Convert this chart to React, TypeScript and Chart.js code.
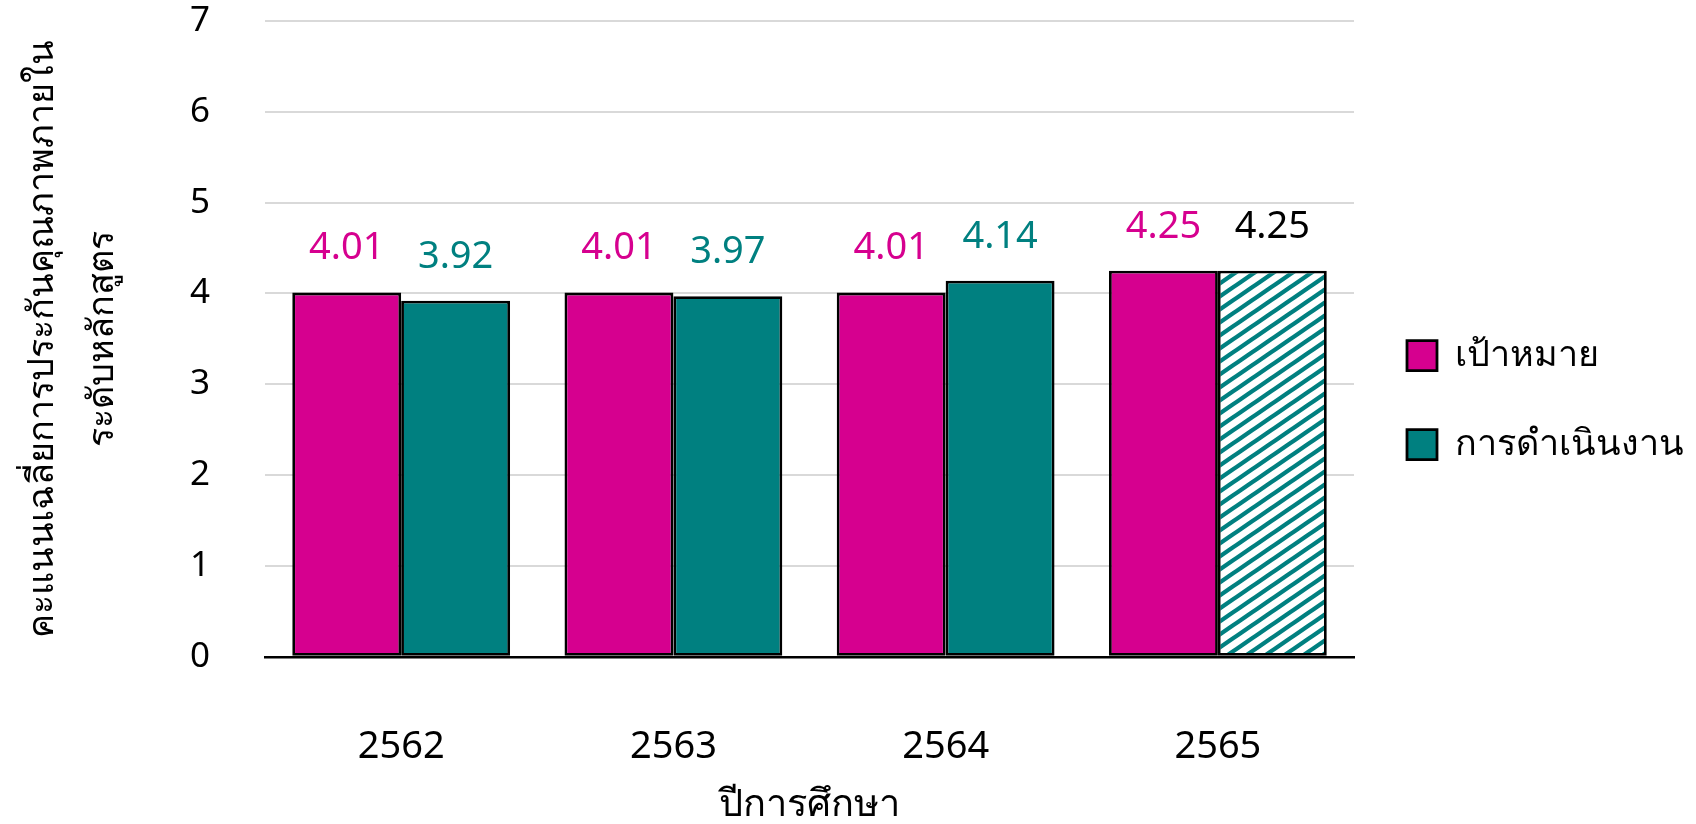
import React, { useEffect, useRef } from 'react';
import { Chart, registerables } from 'chart.js';

Chart.register(...registerables);

// ---- data ----
const years = ['2562', '2563', '2564', '2565'];
const targetValues = [4.01, 4.01, 4.01, 4.25];
const actualValues = [3.92, 3.97, 4.14, 4.25];
const seriesNames = ['เป้าหมาย', 'การดำเนินงาน'];
const yTitleLines = ['คะแนนเฉลี่ยการประกันคุณภาพภายใน', 'ระดับหลักสูตร'];
const xTitle = 'ปีการศึกษา';
const yMin = 0;
const yMax = 7;
const yStep = 1;

// ---- styles ----
const MAGENTA = '#D6008F';
const TEAL = '#008080';
const FONT = "'Noto Sans', 'Open Sans', sans-serif";
const HATCH_INDEX = 3;

function makeHatch(ctx: CanvasRenderingContext2D) {
  const w = 19;
  const h = 13;
  const c = document.createElement('canvas');
  c.width = w;
  c.height = h;
  const g = c.getContext('2d')!;
  g.fillStyle = '#ffffff';
  g.fillRect(0, 0, w, h);
  g.strokeStyle = TEAL;
  g.lineWidth = 4.3;
  g.beginPath();
  for (const dx of [-w, 0, w]) {
    g.moveTo(dx - w, 2 * h);
    g.lineTo(dx + 2 * w, -h);
  }
  g.stroke();
  return ctx.createPattern(c, 'repeat');
}

const valueLabels = {
  id: 'valueLabels',
  afterDatasetsDraw(chart: any) {
    const ctx = chart.ctx as CanvasRenderingContext2D;
    ctx.save();
    ctx.font = `38px ${FONT}`;
    ctx.textAlign = 'center';
    ctx.textBaseline = 'middle';
    chart.data.datasets.forEach((ds: any, di: number) => {
      const meta = chart.getDatasetMeta(di);
      meta.data.forEach((el: any, i: number) => {
        const v = ds.data[i] as number;
        let color = di === 0 ? MAGENTA : TEAL;
        if (di === 1 && i === HATCH_INDEX) color = '#000000';
        ctx.fillStyle = color;
        ctx.fillText(v.toFixed(2), el.x, el.y - 44);
      });
    });
    ctx.restore();
  },
};

export default function App() {
  const ref = useRef<HTMLCanvasElement | null>(null);

  useEffect(() => {
    document.body.style.margin = '0';
    const canvas = ref.current!;
    const ctx = canvas.getContext('2d')!;
    const hatch = makeHatch(ctx);

    const chart = new Chart(ctx, {
      type: 'bar',
      data: {
        labels: years,
        datasets: [
          {
            label: seriesNames[0],
            data: targetValues,
            backgroundColor: MAGENTA,
            borderColor: '#000000',
            borderWidth: 2.8,
            borderSkipped: false,
          },
          {
            label: seriesNames[1],
            data: actualValues,
            backgroundColor: (c: any) =>
              c.dataIndex === HATCH_INDEX ? hatch : TEAL,
            borderColor: '#000000',
            borderWidth: 2.8,
            borderSkipped: false,
          },
        ],
      },
      options: {
        responsive: false,
        animation: false,
        events: [],
        layout: { padding: { left: 0, right: 2, top: 0, bottom: 0 } },
        datasets: {
          bar: { categoryPercentage: 0.8, barPercentage: 1 },
        },
        plugins: {
          tooltip: { enabled: false },
          legend: {
            position: 'right',
            align: 'center',
            fullSize: false,
            title: {
              display: true,
              text: '',
              font: { size: 10, lineHeight: 1 },
              padding: { top: 56, bottom: 56.5 },
            },
            labels: {
              boxWidth: 30,
              boxHeight: 30,
              padding: 53,
              color: '#000000',
              font: { family: FONT, size: 36 },
            },
          },
        },
        scales: {
          x: {
            grid: {
              display: true,
              color: 'rgba(0,0,0,0)',
              drawTicks: true,
              tickLength: 68,
              tickColor: 'rgba(0,0,0,0)',
            },
            border: { display: true, color: '#000000', width: 2.5 },
            ticks: {
              color: '#000000',
              font: { family: FONT, size: 38 },
              padding: 0,
            },
            title: {
              display: true,
              text: xTitle,
              color: '#000000',
              font: { family: FONT, size: 38, lineHeight: 1.0 },
              padding: { top: 15.6, bottom: 0 },
            },
          },
          y: {
            min: yMin,
            max: yMax,
            grid: {
              color: '#d9d9d9',
              lineWidth: 2,
              drawTicks: true,
              tickLength: 55,
              tickColor: 'rgba(0,0,0,0)',
            },
            border: { display: false },
            ticks: {
              stepSize: yStep,
              color: '#000000',
              font: { family: FONT, size: 35, lineHeight: 1.2 },
              padding: 0,
            },
            title: {
              display: true,
              text: yTitleLines,
              color: '#000000',
              font: { family: FONT, size: 36, lineHeight: 1.667 },
              padding: { top: 13, bottom: 57 },
            },
          },
        },
      },
      plugins: [valueLabels],
    });
    return () => chart.destroy();
  }, []);

  return (
    <div style={{ width: 1696, height: 824 }}>
      <canvas ref={ref} width={1696} height={824} />
    </div>
  );
}
